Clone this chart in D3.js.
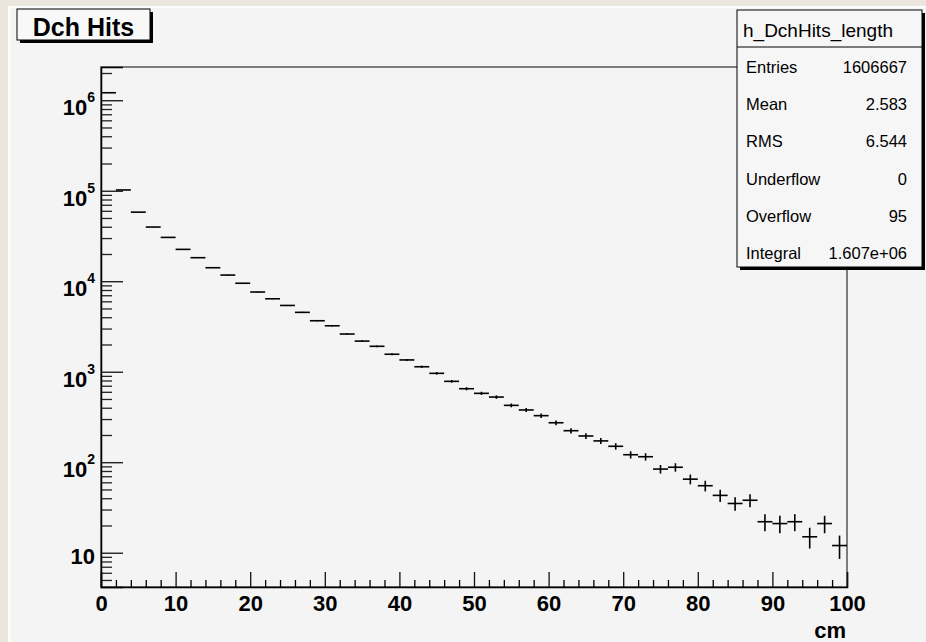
<!DOCTYPE html>
<html>
<head>
<meta charset="utf-8">
<script src="https://cdn.jsdelivr.net/npm/d3@7"></script>
<style>
  body{margin:0;background:#ebe6dd;}
  svg{display:block;font-family:"Liberation Sans",Arial,sans-serif;}
</style>
</head>
<body>
<div id="chart"></div>
<script>
// histogram h_DchHits_length, 50 bins of 2 cm from 0 to 100
const xMin=0, xMax=100, binWidth=2;
const counts=[1210000,102000,58000,39700,30500,22500,18200,14100,11700,9500,
  7600,6400,5400,4530,3660,3220,2610,2180,1910,1560,
  1350,1135,960,783,649,577,525,425,378,327,
  273,223,195,172,150,121,115,84,88,65,
  55,43,35,38,22,21,22,15,21,12];
const yRange=[4.18,2.33e6];
const xMajor=[0,10,20,30,40,50,60,70,80,90,100];
const yDecades=[1,2,3,4,5,6];
const title='Dch Hits';
const xTitle='cm';
const statsName='h_DchHits_length';
const statsLabels=['Entries','Mean','RMS','Underflow','Overflow','Integral'];
const statsValues=['1606667','2.583','6.544','0','95','1.607e+06'];

const W=926,H=642;
const svg=d3.select('#chart').append('svg').attr('width',W).attr('height',H);
svg.append('rect').attr('x',8).attr('y',6).attr('width',W-8).attr('height',H-6).attr('fill','#fcfcfc');
svg.append('rect').attr('x',11).attr('y',8).attr('width',W-11).attr('height',H-8).attr('fill','#f4f4f4');

const m={l:101,r:847,t:67,b:587};
const x=d3.scaleLinear().domain([xMin,xMax]).range([m.l,m.r]);
const y=d3.scaleLog().domain(yRange).range([m.b,m.t]);

// frame
svg.append('rect').attr('x',m.l).attr('y',m.t).attr('width',m.r-m.l).attr('height',m.b-m.t)
  .attr('fill','none').attr('stroke','#555').attr('stroke-width',1.5);

// x axis, ticks inside
const xMinor=d3.range(xMin,xMax+0.1,2).filter(v=>v%10!==0);
svg.append('g').attr('transform',`translate(0,${m.b})`)
  .call(d3.axisBottom(x).tickValues(xMinor).tickSize(-7).tickFormat(''))
  .call(g=>g.select('.domain').remove());
const gx=svg.append('g').attr('transform',`translate(0,${m.b})`)
  .call(d3.axisBottom(x).tickValues(xMajor).tickSize(-15).tickPadding(8).tickFormat(d3.format('d')));
gx.select('.domain').attr('stroke','#000').attr('stroke-width',1.5);
gx.selectAll('.tick line').attr('stroke','#111').attr('stroke-width',1.3);
gx.selectAll('.tick text').attr('font-size',22).attr('font-weight','bold').attr('fill','#000')
  .attr('font-family','"Liberation Sans",Arial,sans-serif');
svg.selectAll('.tick line').attr('stroke-width',1.3);

// y axis, log ticks inside
const yMinor=[];
for(let e=0;e<=6;e++) for(let k=2;k<=9;k++){const v=k*Math.pow(10,e); if(v>=yRange[0]&&v<=yRange[1]) yMinor.push(v);}
svg.append('g').attr('transform',`translate(${m.l},0)`)
  .call(d3.axisLeft(y).tickValues(yMinor).tickSize(-11).tickFormat(''))
  .call(g=>g.select('.domain').remove())
  .selectAll('.tick line').attr('stroke','#222').attr('stroke-width',1.3);
const gy=svg.append('g').attr('transform',`translate(${m.l},0)`)
  .call(d3.axisLeft(y).tickValues(yDecades.map(e=>Math.pow(10,e))).tickSize(-22).tickFormat(''));
gy.select('.domain').attr('stroke','#000').attr('stroke-width',1.5);
gy.selectAll('.tick line').attr('stroke','#111').attr('stroke-width',1.3);

const yl=svg.append('g').attr('font-size',22).attr('font-weight','bold').attr('text-anchor','end');
yDecades.forEach(e=>{
  const v=Math.pow(10,e);
  const t=yl.append('text').attr('x',95).attr('y',y(v)+(e===1?11:15));
  t.append('tspan').text('10');
  if(e>1) t.append('tspan').attr('dy',-13).attr('font-size',14).text(e);
});

// x title
svg.append('text').attr('x',846).attr('y',638).attr('text-anchor','end')
  .attr('font-size',22).attr('font-weight','bold').text(xTitle);

// data: bin width bars with sqrt(N) error bars
const bins=counts.map((c,i)=>({lo:xMin+i*binWidth,hi:xMin+(i+1)*binWidth,c}));
const gd=svg.append('g').attr('stroke','#000').attr('stroke-width',1.6);
gd.selectAll('line.h').data(bins).join('line').attr('class','h')
  .attr('x1',d=>x(d.lo)).attr('x2',d=>x(d.hi)).attr('y1',d=>y(d.c)).attr('y2',d=>y(d.c));
gd.selectAll('line.v').data(bins).join('line').attr('class','v')
  .attr('x1',d=>x((d.lo+d.hi)/2)).attr('x2',d=>x((d.lo+d.hi)/2))
  .attr('y1',d=>y(Math.max(d.c-Math.sqrt(d.c),yRange[0]))).attr('y2',d=>y(d.c+Math.sqrt(d.c)));

// title box
const tb={x:17,y:9,w:133,h:31};
svg.append('rect').attr('x',tb.x+3).attr('y',tb.y+3).attr('width',tb.w).attr('height',tb.h).attr('fill','#000');
svg.append('rect').attr('x',tb.x).attr('y',tb.y).attr('width',tb.w).attr('height',tb.h)
  .attr('fill','#f8f8f8').attr('stroke','#000').attr('stroke-width',1);
svg.append('text').attr('x',tb.x+tb.w/2).attr('y',36).attr('text-anchor','middle')
  .attr('font-size',25).attr('font-weight','bold').text(title);

// stats box
const sb={x:737,y:10,w:185,h:257};
svg.append('rect').attr('x',sb.x+3).attr('y',sb.y+3).attr('width',sb.w).attr('height',sb.h).attr('fill','#000');
svg.append('rect').attr('x',sb.x).attr('y',sb.y).attr('width',sb.w).attr('height',sb.h)
  .attr('fill','#f6f6f6').attr('stroke','#000').attr('stroke-width',1);
svg.append('line').attr('x1',sb.x).attr('x2',sb.x+sb.w).attr('y1',47).attr('y2',47).attr('stroke','#000');
svg.append('text').attr('x',743).attr('y',37).attr('font-size',19).text(statsName);
const rowY=d3.scaleLinear().domain([0,statsLabels.length-1]).range([73,259]);
const gs=svg.append('g').attr('font-size',16.5);
statsLabels.forEach((s,i)=>{
  gs.append('text').attr('x',746).attr('y',rowY(i)).text(s);
  gs.append('text').attr('x',907).attr('y',rowY(i)).attr('text-anchor','end').text(statsValues[i]);
});
</script>
</body>
</html>
